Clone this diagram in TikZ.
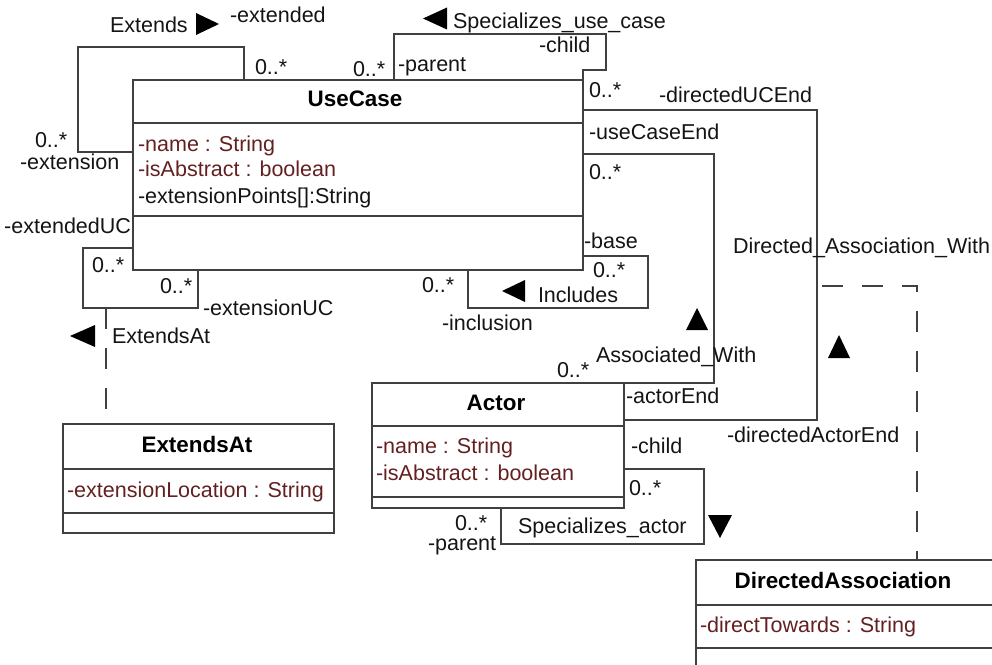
\documentclass[tikz,border=0pt]{standalone}
\usepackage{fontspec}
\setmainfont{Liberation Sans}
\usetikzlibrary{fit}
\definecolor{linecol}{RGB}{64,64,64}
\definecolor{attrcol}{RGB}{100,32,32}
\definecolor{txtcol}{RGB}{20,20,20}
\newcommand\lblfont{\fontsize{21.6}{26}\selectfont}
\newcommand\ttlfont{\fontsize{22.5}{27}\selectfont\bfseries}
\begin{document}
\begin{tikzpicture}[x=1bp,y=-1bp,
  box/.style={draw=linecol,line width=1.6bp,inner sep=0,outer sep=0},
  sep/.style={draw=linecol,line width=1.6bp},
  assoc/.style={draw=linecol,line width=1.6bp},
  dep/.style={assoc,dash pattern=on 21bp off 19bp},
  lbl/.style={inner sep=0,outer sep=0,text=txtcol,font=\lblfont},
  attr/.style={lbl,text=attrcol},
  ttl/.style={inner sep=0,outer sep=0,text=black,font=\ttlfont},
  tri/.style={fill=black}]
\useasboundingbox (0,0) rectangle (992,665);

% ---------- classes ----------
% UseCase
\node[box,fit={(133,80)(583,270)}] (uc) {};
\draw[sep] (uc.west |- 0,123) -- (uc.east |- 0,123);
\draw[sep] (uc.west |- 0,216) -- (uc.east |- 0,216);
\node[ttl,anchor=base] (ucT) at (355,107) {UseCase};
\node[attr,anchor=base west] (ucA1) at (138,152) {-name : String};
\node[attr,anchor=base west] (ucA2) at (138,177) {-isAbstract : boolean};
\node[lbl,anchor=base west] (ucA3) at (138,203) {-extensionPoints[]:String};

% Actor
\node[box,fit={(372,383)(624,508)}] (act) {};
\draw[sep] (act.west |- 0,426) -- (act.east |- 0,426);
\draw[sep] (act.west |- 0,497) -- (act.east |- 0,497);
\node[ttl,anchor=base] (actT) at (496,410) {Actor};
\node[attr,anchor=base west] (actA1) at (376,453) {-name : String};
\node[attr,anchor=base west] (actA2) at (376,480) {-isAbstract : boolean};

% ExtendsAt
\node[box,fit={(63,424)(334,533)}] (ea) {};
\draw[sep] (ea.west |- 0,469) -- (ea.east |- 0,469);
\draw[sep] (ea.west |- 0,513) -- (ea.east |- 0,513);
\node[ttl,anchor=base] (eaT) at (197,452) {ExtendsAt};
\node[attr,anchor=base west] (eaA1) at (67,497) {-extensionLocation : String};

% DirectedAssociation
\node[box,fit={(696,560)(994,680)}] (da) {};
\draw[sep] (da.west |- 0,605) -- (da.east |- 0,605);
\draw[sep] (da.west |- 0,648) -- (da.east |- 0,648);
\node[ttl,anchor=base] (daT) at (843,588) {DirectedAssociation};
\node[attr,anchor=base west] (daA1) at (700,632) {-directTowards : String};

% ---------- associations ----------
% Extends (UseCase to itself)
\draw[assoc] (uc.west |- 0,152) -- (78,152) -- (78,47) -- (244,47) -- (244,0 |- uc.north);
\node[lbl,anchor=base west] (extL) at (110,33) {Extends};
\fill[tri] (219,24) -- (196,13) -- (196,35) -- cycle;
\node[lbl,anchor=base west] (extR1) at (230,23) {-extended};
\node[lbl,anchor=base west] (extM1) at (255,75) {0..*};
\node[lbl,anchor=base west] (extM2) at (35,148) {0..*};
\node[lbl,anchor=base west] (extR2) at (20,170) {-extension};

% Specializes_use_case (UseCase to itself)
\draw[assoc] (394,0 |- uc.north) -- (394,34) -- (606,34) -- (606,70) -- (uc.east |- 0,70) -- (uc.north east);
\fill[tri] (423,18.5) -- (447,7.5) -- (447,29.5) -- cycle;
\node[lbl,anchor=base west] (spucL) at (453,29) {Specializes\_use\_case};
\node[lbl,anchor=base west] (spucR1) at (539,53) {-child};
\node[lbl,anchor=base west] (spucR2) at (398,72) {-parent};
\node[lbl,anchor=base west] (spucM) at (353,77) {0..*};

% Directed_Association_With (UseCase to Actor)
\draw[assoc] (uc.east |- 0,110) -- (817,110) -- (817,420) -- (act.east |- 0,420);
\node[lbl,anchor=base west] (dawM1) at (589,98) {0..*};
\node[lbl,anchor=base west] (dawR1) at (659,103) {-directedUCEnd};
\node[lbl,anchor=base west] (dawL) at (733,253) {Directed\_Association\_With};
\fill[tri] (839,335) -- (828,358) -- (850,358) -- cycle;
\node[lbl,anchor=base west] (dawR2) at (727,442) {-directedActorEnd};

% Associated_With (UseCase to Actor)
\draw[assoc] (uc.east |- 0,154) -- (714,154) -- (714,0 |- act.north) -- (act.north east);
\node[lbl,anchor=base west] (awR1) at (589,140) {-useCaseEnd};
\node[lbl,anchor=base west] (awM1) at (589,180) {0..*};
\fill[tri] (697,308) -- (686,330) -- (708,330) -- cycle;
\node[lbl,anchor=base west] (awL) at (596,362) {Associated\_With};
\node[lbl,anchor=base west] (awM2) at (557,377) {0..*};
\node[lbl,anchor=base west] (awR2) at (626,403) {-actorEnd};

% Includes (UseCase to itself)
\draw[assoc] (uc.east |- 0,256) -- (648,256) -- (648,308) -- (468,308) -- (468,0 |- uc.south);
\node[lbl,anchor=base west] (incR1) at (584,248) {-base};
\node[lbl,anchor=base west] (incM1) at (593,277) {0..*};
\fill[tri] (502,291) -- (525,280) -- (525,302) -- cycle;
\node[lbl,anchor=base west] (incL) at (538,302) {Includes};
\node[lbl,anchor=base west] (incM2) at (422,292) {0..*};
\node[lbl,anchor=base west] (incR2) at (442,330) {-inclusion};

% ExtendsAt association (UseCase to itself) and its class
\draw[assoc] (uc.west |- 0,248) -- (83,248) -- (83,308) -- (198,308) -- (198,0 |- uc.south);
\node[lbl,anchor=base east] (eatR1) at (131,233) {-extendedUC};
\node[lbl,anchor=base west] (eatM1) at (92,272) {0..*};
\node[lbl,anchor=base west] (eatM2) at (160,293) {0..*};
\node[lbl,anchor=base west] (eatR2) at (203,315) {-extensionUC};
\coordinate (extJoin) at (106,308);
\draw[dep] (extJoin) -- (extJoin |- ea.north);
\fill[tri] (70,336) -- (95,325) -- (95,347) -- cycle;
\node[lbl,anchor=base west] (eatL) at (112,343) {ExtendsAt};

% Specializes_actor (Actor to itself)
\draw[assoc] (act.east |- 0,469) -- (704,469) -- (704,544) -- (501,544) -- (501,0 |- act.south);
\node[lbl,anchor=base west] (spaR1) at (631,453) {-child};
\node[lbl,anchor=base west] (spaM1) at (629,495) {0..*};
\node[lbl,anchor=base west] (spaL) at (518,533) {Specializes\_actor};
\fill[tri] (720,538) -- (708,515) -- (732,515) -- cycle;
\node[lbl,anchor=base west] (spaM2) at (455,530) {0..*};
\node[lbl,anchor=base west] (spaR2) at (428,550) {-parent};

% association class link for DirectedAssociation
\coordinate (dirJoin) at (822,286);
\draw[dep] (dirJoin) -- (917,286) -- (917,0 |- da.north);
\end{tikzpicture}
\end{document}
